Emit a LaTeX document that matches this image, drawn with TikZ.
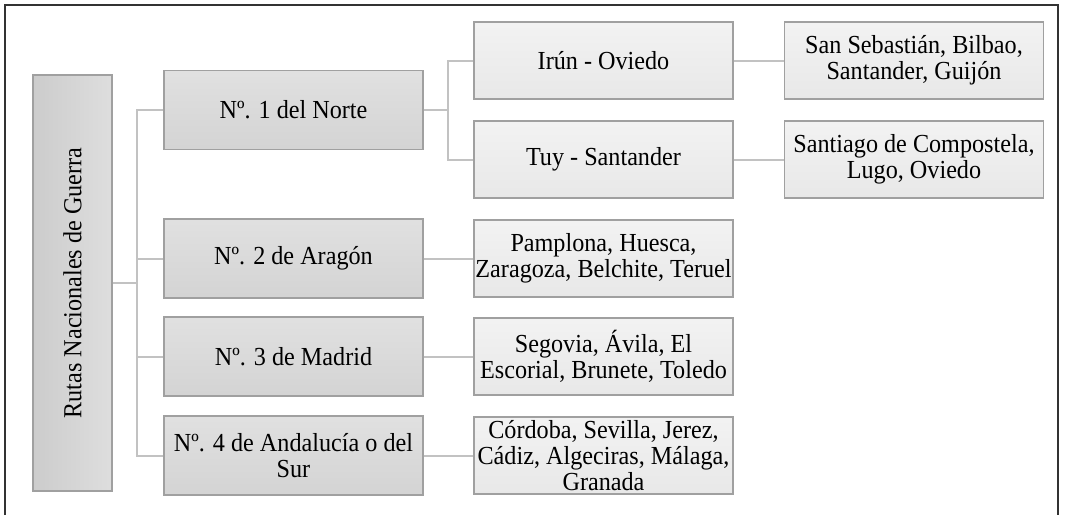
\documentclass[tikz,border=0pt]{standalone}
\usepackage{fontspec}
\setmainfont{Liberation Serif}[FakeStretch=0.93]
\usetikzlibrary{positioning}

\definecolor{boxline}{HTML}{A0A0A0}
\definecolor{linkgray}{HTML}{C2C2C2}

\begin{document}
\begin{tikzpicture}[x=0.5pt, y=-0.5pt]
        % Box style definitions
        \tikzset{
            rootbox/.style={draw=boxline, line width=0.7pt, rotate=90,
                left color=black!20, right color=black!13,
                minimum width=208pt, minimum height=39.5pt, inner sep=0pt,
                font=\fontsize{13}{13}\selectfont},
            routebox/.style={draw=boxline, line width=0.7pt,
                top color=black!12, bottom color=black!17,
                minimum width=129.5pt, minimum height=39.5pt, inner sep=0pt,
                align=center, font=\fontsize{13}{13}\selectfont},
            citybox/.style={routebox, top color=black!5, bottom color=black!9,
                minimum height=38.5pt},
            link/.style={linkgray, line width=1pt}
        }
        \useasboundingbox (0,0) rectangle (1065,515);

        % frame round the figure
        \draw[black!80, line width=0.6pt] (5,515) -- (5,5) -- (1058,5) -- (1058,515);

        % ==========================================
        % ROOT AND MAIN ROUTES
        % ==========================================
        \node[rootbox] (root) at (72.5,283) {Rutas Nacionales de Guerra};

        \node[routebox] (norte)  at (293.5,110)   {Nº. 1 del Norte};
        \node[routebox] (aragon) at (293.5,258.5) {Nº. 2 de Aragón};
        \node[routebox] (madrid) at (293.5,356.5) {Nº. 3 de Madrid};
        \node[routebox] (sur)    at (293.5,455.5) {Nº. 4 de Andalucía o del\\Sur};

        % ==========================================
        % BRANCHES OF THE NORTH ROUTE
        % ==========================================
        \node[citybox] (irun) at (603.5,60.5)  {Irún - Oviedo};
        \node[citybox] (tuy)  at (603.5,159.5) {Tuy - Santander};

        \node[citybox] (irunC) at (914,60.5)  {San Sebastián, Bilbao,\\Santander, Guijón};
        \node[citybox] (tuyC)  at (914,159.5) {Santiago de Compostela,\\Lugo, Oviedo};

        % ==========================================
        % CITIES OF THE OTHER ROUTES
        % ==========================================
        \node[citybox] (aragonC) at (603.5,258.5) {Pamplona, Huesca,\\Zaragoza, Belchite, Teruel};
        \node[citybox] (madridC) at (603.5,356.5) {Segovia, Ávila, El\\Escorial, Brunete, Toledo};
        \node[citybox] (surC)    at (603.5,455.5) {Córdoba, Sevilla, Jerez,\\Cádiz, Algeciras, Málaga,\\Granada};

        % ==========================================
        % CONNECTORS
        % ==========================================
        \coordinate (trunk) at (137,283);
        \coordinate (fork) at (448,110);

        \draw[link] (root.south) -- (trunk);
        \draw[link] (trunk) |- (norte.west);
        \draw[link] (trunk) |- (aragon.west);
        \draw[link] (trunk) |- (madrid.west);
        \draw[link] (trunk) |- (sur.west);

        \draw[link] (norte.east) -- (fork);
        \draw[link] (fork) |- (irun.west);
        \draw[link] (fork) |- (tuy.west);

        \draw[link] (irun) -- (irunC);
        \draw[link] (tuy) -- (tuyC);
        \draw[link] (aragon) -- (aragonC);
        \draw[link] (madrid) -- (madridC);
        \draw[link] (sur) -- (surC);

    \end{tikzpicture}
\end{document}
